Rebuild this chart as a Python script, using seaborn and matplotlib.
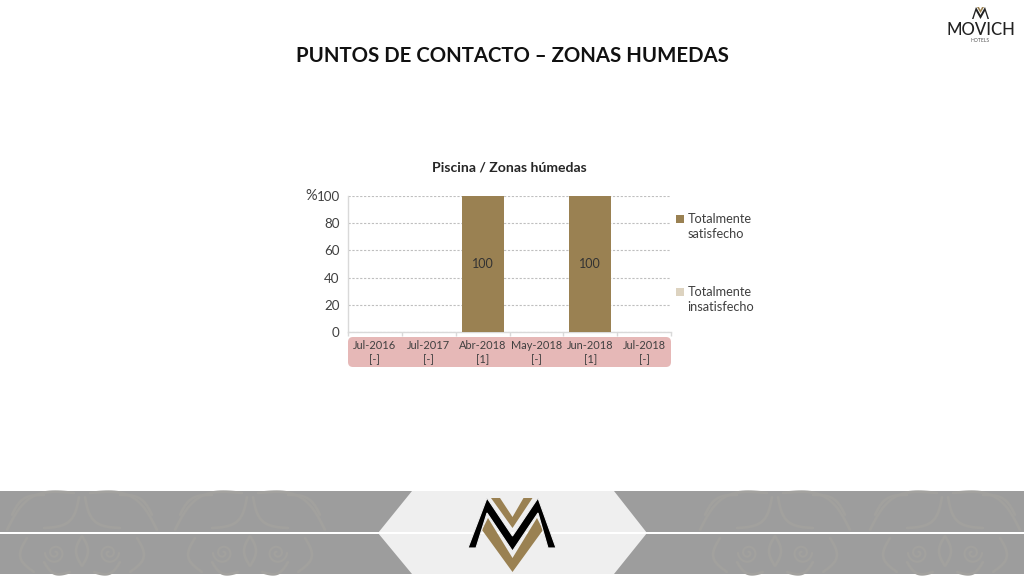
import numpy as np
import pandas as pd
import matplotlib
matplotlib.use("Agg")
import matplotlib.pyplot as plt
import seaborn as sns
from matplotlib.patches import Polygon, Rectangle, FancyBboxPatch
from matplotlib.legend_handler import HandlerPatch

categories = ["Jul-2016", "Jul-2017", "Abr-2018", "May-2018", "Jun-2018", "Jul-2018"]
sample_sizes = ["[-]", "[-]", "[1]", "[-]", "[1]", "[-]"]
satisfied = [np.nan, np.nan, 100, np.nan, 100, np.nan]
unsatisfied = [np.nan, np.nan, np.nan, np.nan, np.nan, np.nan]
series_names = ["Totalmente\nsatisfecho", "Totalmente\ninsatisfecho"]
y_ticks = [0, 20, 40, 60, 80, 100]
main_title = "PUNTOS DE CONTACTO – ZONAS HUMEDAS"
chart_title = "Piscina / Zonas húmedas"

GOLD = "#9A8152"
PALE = "#DDD3C0"
TXT = "#404040"
FONT = "Lato"
SWIRL = "#A2A19E"

sns.set_theme(style="white")
plt.rcParams["font.family"] = [FONT, "DejaVu Sans"]

W, H = 1024, 576
fig = plt.figure(figsize=(W / 100, H / 100), dpi=100, facecolor="white")

# Decoration layer in image pixel coordinates
bg = fig.add_axes([0, 0, 1, 1], zorder=0)
bg.set_xlim(0, W)
bg.set_ylim(H, 0)
bg.axis("off")


def swirl(cx, cy, r, direction):
    t = np.linspace(0, 3.4 * np.pi, 60)
    rad = r * (1 - t / (3.9 * np.pi))
    bg.plot(cx + direction * rad * np.cos(t), cy + rad * np.sin(t), color=SWIRL, lw=1.6, solid_capstyle="round")


def leaf(x_a, y_a, x_b, y_b, bend):
    s = np.linspace(0, 1, 30)
    dx, dy = y_b - y_a, x_a - x_b
    bow = bend * np.sin(np.pi * s)
    bg.plot(x_a + (x_b - x_a) * s + dx * bow, y_a + (y_b - y_a) * s + dy * bow,
            color=SWIRL, lw=2.0, solid_capstyle="round")


bg.add_patch(Rectangle((0, 491), W, 83, fc="#9D9D9D", ec="none"))
for cx in [82, 250, 775, 945]:
    for d in (-1, 1):
        swirl(cx + d * 27, 553, 10, d)
        leaf(cx + d * 8, 493, cx + d * 75, 530, 0.22 * d)
        leaf(cx + d * 3, 497, cx + d * 38, 528, -0.25 * d)
        leaf(cx + d * 38, 495, cx + d * 70, 515, 0.2 * d)
        leaf(cx + d * 55, 538, cx + d * 48, 572, 0.3 * d)
        leaf(cx + d * 12, 572, cx + d * 38, 562, -0.25 * d)
    leaf(cx, 536, cx, 566, 0.2)
    leaf(cx, 536, cx, 566, -0.2)

bg.add_patch(Rectangle((0, 532), W, 2.2, fc="white", ec="none"))
bg.add_patch(Polygon([(378, 533), (412, 491), (614, 491), (647, 533), (614, 574), (412, 574)],
                     closed=True, fc="#EFEFEF", ec="none"))
bg.add_patch(Rectangle((378, 532), 269, 1.6, fc="white", ec="none"))

# Large logo
bg.add_patch(Polygon([(491, 498), (500, 498), (512.5, 517), (523.5, 498), (532.5, 498), (512.5, 528)],
                     closed=True, fc=GOLD, ec="none"))
bg.add_patch(Polygon([(482, 530), (488, 518), (512.5, 558), (537, 518), (543, 530), (512.5, 572)],
                     closed=True, fc=GOLD, ec="none"))
bg.add_patch(Polygon([(468, 548), (487, 498), (512.5, 536), (538, 498), (556, 548), (548, 548),
                      (538, 513), (512.5, 551), (487, 513), (476, 548)],
                     closed=True, fc="black", ec="#EFEFEF", lw=0.8))

# Small logo
bg.add_patch(Polygon([(972, 19), (976, 7), (980.5, 15), (985, 7), (989, 19), (987.5, 19),
                      (985, 11), (980.5, 19), (976, 11), (973.5, 19)],
                     closed=True, fc="#222222", ec="none"))
bg.add_patch(Polygon([(977, 7), (979, 7), (980.5, 10), (982, 7), (984, 7), (980.5, 13)],
                     closed=True, fc=GOLD, ec="none"))
bg.text(980.5, 30, "MOVICH", fontsize=12, color="#222222", ha="center", va="center", fontweight="medium")
bg.text(980.5, 41, "HOTELS", fontsize=3.6, color="#555555", ha="center", va="center")

# Pink band behind the category labels
bg.add_patch(FancyBboxPatch((348, 337), 323, 30, boxstyle="round,pad=0,rounding_size=5",
                            mutation_aspect=1, fc="#E6B8B7", ec="none"))

bg.text(512.5, 56, main_title, fontsize=14.7, fontweight="bold", color="#111111", ha="center", va="center")
bg.text(509.5, 167.5, chart_title, fontsize=10.1, fontweight="bold", color="#262626", ha="center", va="center")
bg.text(311, 196, "%", fontsize=10.5, color=TXT, ha="center", va="center")

# Chart
x0, x1, ytop, ybot = 348, 671, 196, 332
ax = fig.add_axes([x0 / W, 1 - ybot / H, (x1 - x0) / W, (ybot - ytop) / H], zorder=1)
ax.patch.set_alpha(0)

labels = [f"{c}\n{n}" for c, n in zip(categories, sample_sizes)]
table = pd.DataFrame({
    "periodo": labels * 2,
    "valor": satisfied + unsatisfied,
    "serie": [series_names[0]] * 6 + [series_names[1]] * 6,
})
sns.barplot(data=table.dropna(), x="periodo", y="valor", hue="serie",
            order=labels, hue_order=series_names, palette=[GOLD, PALE],
            dodge=False, width=0.78, saturation=1, legend=False, linewidth=0, ax=ax, zorder=3)

ax.set_xlim(-0.5, 5.5)
ax.set_ylim(0, 100)
ax.set_yticks(y_ticks)
ax.set_xlabel("")
ax.set_ylabel("")
ax.set_xticks(range(6))
ax.set_xticklabels(labels, fontsize=7.9, color=TXT, linespacing=1.3)
ax.tick_params(axis="x", length=0, pad=6)
ax.tick_params(axis="y", length=0, pad=6, labelsize=9.6, labelcolor=TXT)
ax.set_xticks(np.arange(-0.5, 6, 1), minor=True)
ax.tick_params(axis="x", which="minor", length=3, width=1, color="#D9D9D9", bottom=True)
ax.grid(axis="y", color="#BFBFBF", linestyle=(0, (2, 1.5)), linewidth=0.8, zorder=0)
ax.set_axisbelow(True)
for side in ["top", "right"]:
    ax.spines[side].set_visible(False)
for side in ["left", "bottom"]:
    ax.spines[side].set_color("#D9D9D9")
    ax.spines[side].set_linewidth(1)

for container in ax.containers:
    ax.bar_label(container, label_type="center", fontsize=9, color="#333333", fmt="%.0f")


def raised_square(legend, orig_handle, xdescent, ydescent, width, height, fontsize):
    return Rectangle((-xdescent, -ydescent + 5.8), width, height)


handles = [Rectangle((0, 0), 1, 1, fc=GOLD, ec="none"), Rectangle((0, 0), 1, 1, fc=PALE, ec="none")]
leg = ax.legend(handles, series_names, loc="upper left", bbox_to_anchor=(676 / W, 1 - 213 / H),
                bbox_transform=fig.transFigure, frameon=False, fontsize=9.2, labelcolor=TXT,
                handlelength=0.62, handleheight=0.62, handletextpad=0.3, labelspacing=3.63,
                borderpad=0, borderaxespad=0,
                handler_map={Rectangle: HandlerPatch(patch_func=raised_square)})
for t in leg.get_texts():
    t.set_linespacing(1.3)

fig.savefig("out.png", dpi=100)
